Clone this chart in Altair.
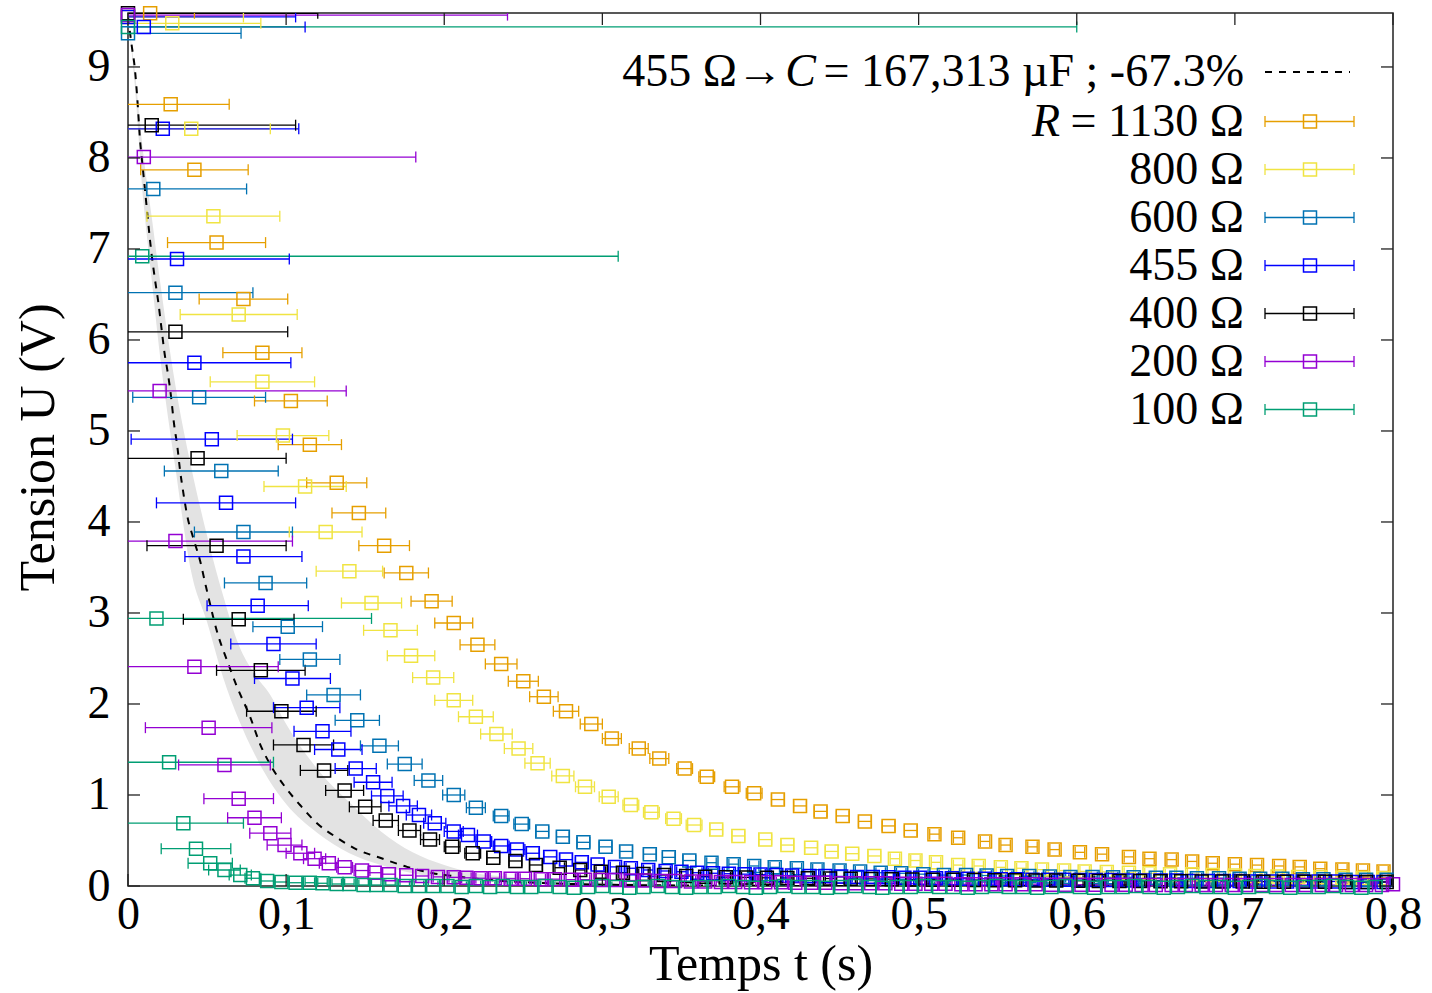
import altair as alt
import pandas as pd

FONT = "Liberation Serif"
W, H = 1265, 873          # plot area in px
X_MAX, Y_MAX = 0.8, 9.593
FRAME = "#222222"

SERIES = ["1130", "800", "600", "455", "400", "200", "100"]
COLORS = ["#E69F00", "#F0E442", "#0072B2", "#0000FF", "#000000", "#9400D3", "#009E73"]
LEG_TEXT = ["= 1130 Ω", "800 Ω", "600 Ω", "455 Ω", "400 Ω", "200 Ω", "100 Ω"]

X_TICKS = [0, 0.1, 0.2, 0.3, 0.4, 0.5, 0.6, 0.7, 0.8]
Y_TICKS = [0, 1, 2, 3, 4, 5, 6, 7, 8, 9]

# ---------------- R = 1130 ohm ----------------
T_1130 = [0.014, 0.027, 0.042, 0.056, 0.073, 0.085, 0.103, 0.115, 0.132, 0.146,
          0.162, 0.176, 0.192, 0.206, 0.221, 0.236, 0.250, 0.263, 0.277, 0.293,
          0.306, 0.323, 0.336, 0.352, 0.366, 0.382, 0.396, 0.411, 0.425, 0.438,
          0.452, 0.466, 0.481, 0.495, 0.510, 0.525, 0.542, 0.555, 0.572, 0.586,
          0.602, 0.616, 0.633, 0.646, 0.660, 0.673, 0.686, 0.700, 0.714, 0.728,
          0.741, 0.754, 0.768, 0.781, 0.794]
U_1130 = [9.59, 8.59, 7.87, 7.07, 6.45, 5.86, 5.33, 4.85, 4.43, 4.10,
          3.74, 3.44, 3.13, 2.89, 2.65, 2.44, 2.25, 2.08, 1.92, 1.78,
          1.62, 1.51, 1.40, 1.29, 1.20, 1.09, 1.02, 0.95, 0.88, 0.82,
          0.77, 0.71, 0.66, 0.61, 0.57, 0.53, 0.49, 0.45, 0.43, 0.40,
          0.37, 0.35, 0.32, 0.30, 0.29, 0.27, 0.25, 0.24, 0.23, 0.22,
          0.21, 0.19, 0.18, 0.17, 0.16]
DT_1130 = [0.028, 0.037, 0.034, 0.031, 0.028, 0.025, 0.023, 0.020, 0.019, 0.017,
           0.016, 0.014, 0.013, 0.012, 0.011, 0.010, 0.0095, 0.009, 0.008, 0.007,
           0.006, 0.006, 0.006, 0.005, 0.005, 0.005, 0.005, 0.004, 0.004, 0.004,
           0.004, 0.004, 0.004, 0.004, 0.003, 0.003, 0.003, 0.003, 0.003, 0.003,
           0.003, 0.003, 0.003, 0.003, 0.003, 0.003, 0.003, 0.003, 0.003, 0.003,
           0.003, 0.003, 0.003, 0.003, 0.003]

# ---------------- 800 ohm ----------------
T_800 = [0.000, 0.028, 0.040, 0.054, 0.070, 0.085, 0.098, 0.112, 0.125, 0.140,
         0.154, 0.166, 0.179, 0.193, 0.206, 0.220, 0.233, 0.247, 0.259, 0.275,
         0.289, 0.304, 0.318, 0.331, 0.345, 0.358, 0.372, 0.386, 0.403, 0.417,
         0.432, 0.445, 0.458, 0.472, 0.485, 0.498, 0.511, 0.525, 0.538, 0.552,
         0.565, 0.578, 0.592, 0.605, 0.619, 0.633, 0.646, 0.659, 0.673, 0.686,
         0.700, 0.713, 0.727, 0.740, 0.754, 0.768, 0.781, 0.794]
U_800 = [9.55, 9.48, 8.32, 7.36, 6.28, 5.54, 4.95, 4.39, 3.89, 3.46,
         3.11, 2.81, 2.53, 2.29, 2.04, 1.86, 1.67, 1.51, 1.35, 1.21,
         1.09, 0.98, 0.89, 0.81, 0.74, 0.67, 0.62, 0.55, 0.51, 0.45,
         0.42, 0.38, 0.355, 0.33, 0.30, 0.28, 0.26, 0.23, 0.22, 0.205,
         0.195, 0.18, 0.17, 0.16, 0.155, 0.145, 0.14, 0.13, 0.13, 0.12,
         0.115, 0.11, 0.105, 0.10, 0.095, 0.09, 0.088, 0.085]
DT_800 = [0.073, 0.056, 0.050, 0.042, 0.037, 0.033, 0.029, 0.026, 0.023, 0.021,
          0.019, 0.017, 0.015, 0.013, 0.012, 0.011, 0.010, 0.009, 0.008, 0.007,
          0.006, 0.006, 0.005, 0.005, 0.005, 0.005, 0.004, 0.004, 0.004, 0.004,
          0.004, 0.004, 0.004, 0.004, 0.003, 0.003, 0.003, 0.003, 0.003, 0.003,
          0.003, 0.003, 0.003, 0.003, 0.003, 0.003, 0.003, 0.003, 0.003, 0.003,
          0.003, 0.003, 0.003, 0.003, 0.003, 0.003, 0.003, 0.003]

# ---------------- 600 ohm ----------------
T_600 = [0.000, 0.016, 0.030, 0.045, 0.059, 0.073, 0.087, 0.101, 0.115, 0.130,
         0.145, 0.159, 0.175, 0.190, 0.206, 0.220, 0.236, 0.249, 0.262, 0.275,
         0.288, 0.302, 0.315, 0.330, 0.342, 0.355, 0.369, 0.383, 0.396, 0.409,
         0.423, 0.436, 0.450, 0.463, 0.476, 0.489, 0.503, 0.516, 0.530, 0.543,
         0.556, 0.570, 0.583, 0.596, 0.610, 0.623, 0.636, 0.650, 0.663, 0.676,
         0.690, 0.703, 0.716, 0.730, 0.743, 0.756, 0.770, 0.783, 0.796]
U_600 = [9.37, 7.66, 6.52, 5.37, 4.56, 3.89, 3.33, 2.85, 2.49, 2.10,
         1.82, 1.54, 1.34, 1.16, 1.00, 0.86, 0.77, 0.68, 0.60, 0.54,
         0.48, 0.43, 0.38, 0.35, 0.315, 0.28, 0.256, 0.24, 0.22, 0.205,
         0.195, 0.18, 0.17, 0.16, 0.146, 0.14, 0.13, 0.12, 0.12, 0.115,
         0.11, 0.11, 0.105, 0.10, 0.10, 0.095, 0.095, 0.09, 0.09, 0.085,
         0.085, 0.08, 0.08, 0.08, 0.075, 0.075, 0.07, 0.07, 0.07]
DT_600 = [0.0715, 0.059, 0.049, 0.042, 0.036, 0.031, 0.026, 0.022, 0.019, 0.017,
          0.014, 0.012, 0.011, 0.009, 0.007, 0.006, 0.005, 0.005, 0.004, 0.004,
          0.004, 0.004, 0.004, 0.004, 0.004, 0.004, 0.003, 0.003, 0.003, 0.003,
          0.003, 0.003, 0.003, 0.003, 0.003, 0.003, 0.003, 0.003, 0.003, 0.003,
          0.003, 0.003, 0.003, 0.003, 0.003, 0.003, 0.003, 0.003, 0.003, 0.003,
          0.003, 0.003, 0.003, 0.003, 0.003, 0.003, 0.003, 0.003, 0.003]

# ---------------- 455 ohm ----------------
T_455 = [0.000, 0.010, 0.022, 0.031, 0.042, 0.053, 0.062, 0.073, 0.082, 0.092,
         0.104, 0.113, 0.123, 0.133, 0.144, 0.155, 0.164, 0.174, 0.184, 0.194,
         0.206, 0.215, 0.225, 0.236, 0.246, 0.256, 0.267, 0.277, 0.287, 0.297,
         0.308, 0.318, 0.329, 0.340, 0.350, 0.360, 0.370, 0.380, 0.390, 0.400,
         0.410, 0.420, 0.431, 0.441, 0.451, 0.461, 0.471, 0.481, 0.491, 0.501,
         0.511, 0.521, 0.531, 0.542, 0.552, 0.562, 0.572, 0.582, 0.592, 0.602,
         0.612, 0.622, 0.632, 0.642, 0.653, 0.663, 0.673, 0.683, 0.693, 0.703,
         0.713, 0.723, 0.733, 0.743, 0.753, 0.764, 0.774, 0.784, 0.794]
U_455 = [9.55, 9.44, 8.32, 6.89, 5.75, 4.91, 4.21, 3.62, 3.08, 2.66,
         2.28, 1.96, 1.70, 1.50, 1.29, 1.14, 0.99, 0.88, 0.78, 0.69,
         0.60, 0.56, 0.49, 0.44, 0.40, 0.36, 0.32, 0.29, 0.26, 0.235,
         0.21, 0.195, 0.176, 0.165, 0.157, 0.146, 0.14, 0.135, 0.13, 0.125,
         0.12, 0.115, 0.11, 0.11, 0.105, 0.10, 0.10, 0.095, 0.09, 0.09,
         0.085, 0.085, 0.08, 0.08, 0.075, 0.075, 0.07, 0.07, 0.07, 0.065,
         0.065, 0.065, 0.06, 0.06, 0.06, 0.06, 0.055, 0.055, 0.055, 0.055,
         0.05, 0.05, 0.05, 0.05, 0.05, 0.05, 0.045, 0.045, 0.045]
DT_455 = [0.106, 0.102, 0.086, 0.071, 0.061, 0.051, 0.044, 0.037, 0.032, 0.027,
          0.024, 0.021, 0.018, 0.015, 0.013, 0.012, 0.010, 0.009, 0.008, 0.007,
          0.006, 0.006, 0.005, 0.005, 0.005, 0.004, 0.004, 0.004, 0.004, 0.004,
          0.003, 0.003, 0.003, 0.003, 0.003, 0.003, 0.003, 0.003, 0.003, 0.003,
          0.003, 0.003, 0.003, 0.003, 0.003, 0.003, 0.003, 0.003, 0.003, 0.003,
          0.003, 0.003, 0.003, 0.003, 0.003, 0.003, 0.003, 0.003, 0.003, 0.003,
          0.003, 0.003, 0.003, 0.003, 0.003, 0.003, 0.003, 0.003, 0.003, 0.003,
          0.003, 0.003, 0.003, 0.003, 0.003, 0.003, 0.003, 0.003, 0.003]

# ---------------- 400 ohm ----------------
T_400 = [0.000, 0.015, 0.030, 0.044, 0.056, 0.070, 0.084, 0.097, 0.111, 0.124,
         0.137, 0.150, 0.163, 0.178, 0.191, 0.205, 0.218, 0.231, 0.245, 0.258,
         0.273, 0.286, 0.299, 0.313, 0.326, 0.339, 0.353, 0.365, 0.378, 0.391,
         0.404, 0.417, 0.430, 0.444, 0.457, 0.470, 0.483, 0.496, 0.509, 0.522,
         0.535, 0.548, 0.561, 0.574, 0.587, 0.601, 0.614, 0.627, 0.640, 0.653,
         0.666, 0.679, 0.692, 0.705, 0.718, 0.731, 0.744, 0.757, 0.770, 0.783,
         0.796]
U_400 = [9.59, 8.36, 6.09, 4.70, 3.74, 2.93, 2.37, 1.92, 1.55, 1.27,
         1.05, 0.87, 0.72, 0.61, 0.51, 0.43, 0.36, 0.31, 0.275, 0.231,
         0.201, 0.176, 0.157, 0.146, 0.132, 0.121, 0.110, 0.102, 0.097, 0.094,
         0.09, 0.088, 0.085, 0.082, 0.08, 0.078, 0.075, 0.072, 0.07, 0.068,
         0.066, 0.064, 0.062, 0.06, 0.06, 0.058, 0.056, 0.055, 0.054, 0.053,
         0.052, 0.05, 0.05, 0.05, 0.048, 0.048, 0.047, 0.046, 0.045, 0.045,
         0.044]
DT_400 = [0.120, 0.091, 0.071, 0.056, 0.044, 0.035, 0.028, 0.022, 0.019, 0.015,
          0.012, 0.010, 0.008, 0.007, 0.006, 0.005, 0.005, 0.004, 0.004, 0.004,
          0.003, 0.003, 0.003, 0.003, 0.003, 0.003, 0.003, 0.003, 0.003, 0.003,
          0.003, 0.003, 0.003, 0.003, 0.003, 0.003, 0.003, 0.003, 0.003, 0.003,
          0.003, 0.003, 0.003, 0.003, 0.003, 0.003, 0.003, 0.003, 0.003, 0.003,
          0.003, 0.003, 0.003, 0.003, 0.003, 0.003, 0.003, 0.003, 0.003, 0.003,
          0.003]

# ---------------- 200 ohm ----------------
T_200 = [0.000, 0.010, 0.020, 0.030, 0.042, 0.051, 0.061, 0.070, 0.080, 0.090,
         0.099, 0.109, 0.118, 0.127, 0.137, 0.148, 0.156, 0.165, 0.176, 0.186,
         0.196, 0.206, 0.214, 0.223, 0.232, 0.242, 0.251, 0.261, 0.270, 0.280,
         0.289, 0.299, 0.308, 0.318, 0.327, 0.337, 0.346, 0.356, 0.365, 0.375,
         0.384, 0.394, 0.403, 0.413, 0.422, 0.432, 0.441, 0.451, 0.460, 0.470,
         0.479, 0.489, 0.498, 0.508, 0.517, 0.527, 0.536, 0.546, 0.555, 0.565,
         0.574, 0.584, 0.593, 0.603, 0.612, 0.622, 0.631, 0.641, 0.650, 0.660,
         0.669, 0.679, 0.688, 0.698, 0.707, 0.717, 0.726, 0.736, 0.745, 0.755,
         0.764, 0.774, 0.783, 0.793, 0.800]
U_200 = [9.57, 8.01, 5.44, 3.79, 2.41, 1.74, 1.33, 0.96, 0.75, 0.58,
         0.45, 0.36, 0.30, 0.25, 0.205, 0.17, 0.146, 0.13, 0.118, 0.11,
         0.10, 0.095, 0.09, 0.085, 0.085, 0.08, 0.08, 0.075, 0.075, 0.07,
         0.07, 0.065, 0.065, 0.06, 0.06, 0.055, 0.055, 0.05, 0.05, 0.045,
         0.045, 0.04, 0.04, 0.04, 0.035, 0.035, 0.035, 0.03, 0.03, 0.03,
         0.03, 0.025, 0.025, 0.025, 0.025, 0.02, 0.02, 0.02, 0.02, 0.02,
         0.02, 0.015, 0.015, 0.015, 0.015, 0.015, 0.015, 0.01, 0.01, 0.01,
         0.01, 0.01, 0.01, 0.01, 0.01, 0.01, 0.01, 0.01, 0.01, 0.01,
         0.01, 0.01, 0.01, 0.01, 0.02]
DT_200 = [0.240, 0.172, 0.118, 0.074, 0.053, 0.040, 0.029, 0.022, 0.017, 0.013,
          0.011, 0.009, 0.007, 0.006, 0.005, 0.005, 0.004, 0.004, 0.004, 0.004,
          0.003, 0.003, 0.003, 0.003, 0.003, 0.003, 0.003, 0.003, 0.003, 0.003,
          0.003, 0.003, 0.003, 0.003, 0.003, 0.003, 0.003, 0.003, 0.003, 0.003,
          0.003, 0.003, 0.003, 0.003, 0.003, 0.003, 0.003, 0.003, 0.003, 0.003,
          0.003, 0.003, 0.003, 0.003, 0.003, 0.003, 0.003, 0.003, 0.003, 0.003,
          0.003, 0.003, 0.003, 0.003, 0.003, 0.003, 0.003, 0.003, 0.003, 0.003,
          0.003, 0.003, 0.003, 0.003, 0.003, 0.003, 0.003, 0.003, 0.003, 0.003,
          0.003, 0.003, 0.003, 0.003, 0.003]

# ---------------- 100 ohm ----------------
T_100 = [0.000, 0.009, 0.018, 0.026, 0.035, 0.043, 0.052, 0.061, 0.071, 0.079,
         0.088, 0.097, 0.106, 0.115, 0.123, 0.132, 0.140, 0.149, 0.157, 0.166,
         0.175, 0.184, 0.193, 0.202, 0.211, 0.220, 0.229, 0.237, 0.246, 0.255,
         0.264, 0.273, 0.282, 0.291, 0.300, 0.309, 0.317, 0.326, 0.335, 0.344,
         0.353, 0.362, 0.371, 0.380, 0.389, 0.397, 0.406, 0.415, 0.424, 0.433,
         0.442, 0.451, 0.460, 0.469, 0.477, 0.486, 0.495, 0.504, 0.513, 0.522,
         0.531, 0.540, 0.549, 0.557, 0.566, 0.575, 0.584, 0.593, 0.602, 0.611,
         0.620, 0.629, 0.637, 0.646, 0.655, 0.664, 0.673, 0.682, 0.691, 0.700,
         0.709, 0.717, 0.726, 0.735, 0.744, 0.753, 0.762, 0.771, 0.780, 0.789]
U_100 = [9.44, 6.92, 2.94, 1.36, 0.69, 0.41, 0.25, 0.176, 0.12, 0.085,
         0.055, 0.044, 0.036, 0.036, 0.03, 0.022, 0.022, 0.011, 0.011, 0.011,
         0.0, 0.0, 0.0, 0.0, -0.01, 0.0, -0.01, 0.0, -0.01, -0.01,
         0.0, -0.01, -0.02, -0.01, 0.0, -0.01, -0.02, -0.01, 0.0, -0.01,
         -0.02, -0.01, -0.01, 0.0, -0.01, -0.02, -0.01, 0.0, -0.01, -0.01,
         -0.02, -0.01, 0.0, -0.01, -0.02, -0.01, -0.01, 0.0, -0.01, -0.01,
         -0.02, -0.01, 0.0, -0.01, -0.01, -0.02, -0.01, 0.0, -0.01, -0.02,
         -0.01, -0.01, 0.0, -0.01, -0.02, -0.01, 0.0, -0.01, -0.01, -0.02,
         -0.01, 0.0, -0.01, -0.02, -0.01, -0.01, 0.0, -0.01, -0.02, -0.01]
DT_100 = [0.600, 0.301, 0.136, 0.066, 0.038, 0.022, 0.014, 0.010, 0.007, 0.005,
          0.004, 0.004, 0.004, 0.003, 0.003, 0.003, 0.003, 0.003, 0.003, 0.003,
          0.003, 0.003, 0.003, 0.003, 0.003, 0.003, 0.003, 0.003, 0.003, 0.003,
          0.003, 0.003, 0.003, 0.003, 0.003, 0.003, 0.003, 0.003, 0.003, 0.003,
          0.003, 0.003, 0.003, 0.003, 0.003, 0.003, 0.003, 0.003, 0.003, 0.003,
          0.003, 0.003, 0.003, 0.003, 0.003, 0.003, 0.003, 0.003, 0.003, 0.003,
          0.003, 0.003, 0.003, 0.003, 0.003, 0.003, 0.003, 0.003, 0.003, 0.003,
          0.003, 0.003, 0.003, 0.003, 0.003, 0.003, 0.003, 0.003, 0.003, 0.003,
          0.003, 0.003, 0.003, 0.003, 0.003, 0.003, 0.003, 0.003, 0.003, 0.003]

# ---------------- fit curve (dashed) and grey band, as read ----------------
DASH_T = [0.0, 0.0023, 0.0044, 0.0059, 0.0076, 0.0093, 0.0108, 0.0126, 0.0144, 0.0171,
          0.0192, 0.0213, 0.0230, 0.0255, 0.0272, 0.0291, 0.0312, 0.0329, 0.0350, 0.0371,
          0.0417, 0.0455, 0.0493, 0.0569, 0.0626, 0.0689, 0.0772, 0.0835, 0.0911, 0.0993,
          0.1088, 0.1195, 0.1322, 0.1448, 0.1594, 0.1765, 0.1929, 0.2055, 0.23, 0.26,
          0.30, 0.35, 0.40, 0.50, 0.60, 0.70, 0.80]
DASH_U = [9.55, 9.24, 8.97, 8.65, 8.20, 7.90, 7.64, 7.32, 7.02, 6.66,
          6.41, 6.11, 5.87, 5.60, 5.38, 5.08, 4.83, 4.57, 4.32, 4.10,
          3.80, 3.58, 3.29, 2.76, 2.48, 2.19, 1.86, 1.56, 1.30, 1.09,
          0.89, 0.69, 0.53, 0.40, 0.31, 0.21, 0.14, 0.11, 0.065, 0.035,
          0.015, 0.006, 0.002, 0.0, 0.0, 0.0, 0.0]

BAND_T = [0.0, 0.004, 0.01, 0.015, 0.02, 0.03, 0.04, 0.05, 0.06, 0.07,
          0.08, 0.09, 0.10, 0.12, 0.14, 0.16, 0.18, 0.20, 0.22, 0.25,
          0.28, 0.32, 0.36, 0.40]
BAND_LO = [9.55, 8.86, 7.48, 6.66, 5.86, 4.59, 3.45, 2.90, 2.30, 1.83,
           1.45, 1.14, 0.90, 0.58, 0.36, 0.23, 0.14, 0.09, 0.055, 0.03,
           0.015, 0.006, 0.003, 0.001]
BAND_HI = [9.55, 9.00, 8.00, 7.35, 6.68, 5.50, 4.60, 3.85, 3.20, 2.65,
           2.33, 2.10, 1.78, 1.28, 0.92, 0.60, 0.37, 0.23, 0.14, 0.09,
           0.055, 0.03, 0.015, 0.008]

# ---------------- tables ----------------
ALL = [("1130", T_1130, U_1130, DT_1130), ("800", T_800, U_800, DT_800),
       ("600", T_600, U_600, DT_600), ("455", T_455, U_455, DT_455),
       ("400", T_400, U_400, DT_400), ("200", T_200, U_200, DT_200),
       ("100", T_100, U_100, DT_100)]
rows = []
for name, ts, us, ds in ALL:
    assert len(ts) == len(us) == len(ds), (name, len(ts), len(us), len(ds))
    for t, u, d in zip(ts, us, ds):
        rows.append({"s": name, "t": t, "u": u, "lo": t - d, "hi": t + d})
df = pd.DataFrame(rows)
assert len(DASH_T) == len(DASH_U)
assert len(BAND_T) == len(BAND_LO) == len(BAND_HI)
dash_df = pd.DataFrame({"t": DASH_T, "u": DASH_U})
band_df = pd.DataFrame({"t": BAND_T, "lo": BAND_LO, "hi": BAND_HI})

xs = alt.Scale(domain=[0, X_MAX], nice=False, zero=False)
ys = alt.Scale(domain=[0, Y_MAX], nice=False, zero=False)
xaxis = alt.Axis(values=X_TICKS, labelExpr="replace(format(datum.value, '.1~f'), '.', ',')",
                 ticks=False, domain=False, grid=False, labelFont=FONT, labelFontSize=46,
                 labelColor="black", labelPadding=6, labelFlush=False, labelOverlap=False,
                 title="Temps t (s)", titleFont=FONT, titleFontSize=50, titleFontWeight="normal",
                 titleColor="black", titleX=W / 2, titleY=78, titleAlign="center",
                 titleBaseline="middle")
yaxis = alt.Axis(values=Y_TICKS, format="d", ticks=False, domain=False, grid=False,
                 labelFont=FONT, labelFontSize=46, labelColor="black", labelPadding=18,
                 labelOverlap=False, labelFlush=False,
                 title="Tension U (V)", titleFont=FONT, titleFontSize=50, titleFontWeight="normal",
                 titleColor="black", titleAngle=270, titleX=-90, titleY=434,
                 titleAlign="center", titleBaseline="middle")
cscale = alt.Scale(domain=SERIES, range=COLORS)
col = alt.Color("s:N", scale=cscale, legend=None)


def X(f):
    return alt.X(f, type="quantitative", scale=xs, axis=xaxis)


def Y(f):
    return alt.Y(f, type="quantitative", scale=ys, axis=yaxis)


layers = []
layers.append(alt.Chart(band_df).mark_area(color="#e3e3e3", interpolate="monotone", clip=True)
              .encode(x=X("t"), y=Y("lo"), y2=alt.Y2("hi")))
layers.append(alt.Chart(dash_df).mark_line(color="black", strokeWidth=2, strokeDash=[7, 7],
                                            interpolate="monotone", clip=True)
              .encode(x=X("t"), y=Y("u")))
layers.append(alt.Chart(df).mark_rule(strokeWidth=1.3, clip=True)
              .encode(x=X("lo"), x2=alt.X2("hi"), y=Y("u"), color=col))
for f in ["lo", "hi"]:
    layers.append(alt.Chart(df).mark_rule(strokeWidth=1.3, clip=True, yOffset=-5.5, y2Offset=5.5)
                  .encode(x=X(f), y=Y("u"), y2=alt.Y2("u"), color=col))
layers.append(alt.Chart(df).mark_point(shape="square", filled=False, size=169, strokeWidth=1.5,
                                       opacity=1)
              .encode(x=X("t"), y=Y("u"), color=col))

# inward ticks on all four sides
xt = pd.DataFrame({"v": X_TICKS})
yt = pd.DataFrame({"v": Y_TICKS})
TL = 12
layers.append(alt.Chart(xt).mark_rule(color=FRAME, strokeWidth=1.3)
              .encode(x=X("v"), y=alt.value(H), y2=alt.value(H - TL)))
layers.append(alt.Chart(xt).mark_rule(color=FRAME, strokeWidth=1.3)
              .encode(x=X("v"), y=alt.value(0), y2=alt.value(TL)))
layers.append(alt.Chart(yt).mark_rule(color=FRAME, strokeWidth=1.3)
              .encode(y=Y("v"), x=alt.value(0), x2=alt.value(TL)))
layers.append(alt.Chart(yt).mark_rule(color=FRAME, strokeWidth=1.3)
              .encode(y=Y("v"), x=alt.value(W - TL), x2=alt.value(W)))

# legend (pixel layout inside the plot area)
one = pd.DataFrame({"k": [0]})
OX, OY = 128, 13


def txt(s, xr, yr, italic=False):
    return (alt.Chart(one).mark_text(text=s, font=FONT, fontSize=46, align="right",
                                     baseline="middle", color="black",
                                     fontStyle="italic" if italic else "normal")
            .encode(x=alt.value(xr - OX), y=alt.value(yr - OY)))


ROW0 = 72
layers.append(txt("= 167,313 µF ; -67.3%", 1244, ROW0))
layers.append(txt("C", 816, ROW0, italic=True))
layers.append(txt("455 Ω→", 783, ROW0))
layers.append(alt.Chart(one).mark_rule(color="black", strokeWidth=2, strokeDash=[7, 7])
              .encode(x=alt.value(1265 - OX), x2=alt.value(1350 - OX), y=alt.value(ROW0 - OY)))
SX1, SX2, SXM = 1265, 1354, 1310
for i, (lab, c) in enumerate(zip(LEG_TEXT, COLORS)):
    yr = 121.5 + 48 * i
    layers.append(txt(lab, 1244, yr))
    if i == 0:
        layers.append(txt("R", 1060, yr, italic=True))
    layers.append(alt.Chart(one).mark_rule(color=c, strokeWidth=1.3)
                  .encode(x=alt.value(SX1 - OX), x2=alt.value(SX2 - OX), y=alt.value(yr - OY)))
    for xx in (SX1, SX2):
        layers.append(alt.Chart(one).mark_rule(color=c, strokeWidth=1.3)
                      .encode(x=alt.value(xx - OX), y=alt.value(yr - OY - 5.5),
                              y2=alt.value(yr - OY + 5.5)))
    layers.append(alt.Chart(one).mark_point(shape="square", filled=False, size=169,
                                            strokeWidth=1.5, color=c, opacity=1)
                  .encode(x=alt.value(SXM - OX), y=alt.value(yr - OY)))

chart = (alt.layer(*layers)
         .properties(width=W, height=H,
                     padding={"left": 128, "top": 13, "right": 39, "bottom": 107},
                     autosize=alt.AutoSizeParams(type="none"),
                     background="white")
         .configure_view(stroke=FRAME, strokeWidth=1.5))

chart.save("out.html", embed_options={"renderer": "svg", "actions": False})
